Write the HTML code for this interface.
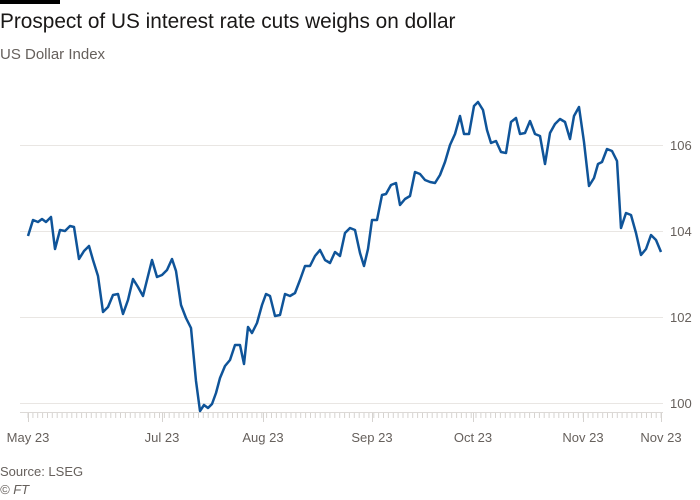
<!DOCTYPE html>
<html><head><meta charset="utf-8"><style>
html,body{margin:0;padding:0;background:#fff;}
body{width:700px;height:500px;overflow:hidden;font-family:"Liberation Sans",sans-serif;position:relative;}
.bar{position:absolute;left:0;top:0;width:60px;height:4px;background:#000;}
.t{position:absolute;left:0;top:10px;font-size:20.8px;color:#1a1817;}
.s{position:absolute;left:0;top:46px;font-size:15px;color:#66605c;}
.f{position:absolute;left:0;font-size:13px;color:#66605c;}
</style></head><body>
<div class="bar"></div>
<div class="t">Prospect of US interest rate cuts weighs on dollar</div>
<div class="s">US Dollar Index</div>
<svg width="700" height="500" style="position:absolute;left:0;top:0">
<g stroke="#e9e6e3" stroke-width="1">
<line x1="20" x2="663" y1="145.5" y2="145.5"/>
<line x1="20" x2="663" y1="231.5" y2="231.5"/>
<line x1="20" x2="663" y1="317.5" y2="317.5"/>
<line x1="20" x2="663" y1="403.5" y2="403.5"/>
<line x1="20" x2="663" y1="412.5" y2="412.5" stroke="#dcd9d6"/>
</g>
<g id="ticks" stroke="#d6d3d0" stroke-width="1"></g>
<g font-family="Liberation Sans, sans-serif" font-size="13" fill="#66605c">
<text x="670" y="150">106</text><text x="670" y="236">104</text><text x="670" y="322">102</text><text x="670" y="408">100</text>
<g text-anchor="middle">
<text x="28" y="442">May 23</text><text x="162" y="442">Jul 23</text><text x="263" y="442">Aug 23</text>
<text x="372" y="442">Sep 23</text><text x="473" y="442">Oct 23</text><text x="583" y="442">Nov 23</text><text x="661" y="442">Nov 23</text>
</g></g>
<polyline fill="none" stroke="#0f5499" stroke-width="2.5" stroke-linejoin="round" points="28,236 33,220 38,222 42,219 46,222 51,217 55,249 60,230 65,231 70,226 74,227 79,259 84,251 89,246 93,260 98,276 103,312 108,307 113,295 118,294 123,314 128,300 133,279 138,287 143,296 147,280 152,260 157,277 162,275 167,270 172,259 176,271 181,305 186,318 191,328 196,381 200,411 204,405 208,408 212,404 216,393 220,378 225,366 230,360 235,345 240,345 244,364 248,327 252,333 257,323 262,305 266,294 270,296 275,316 280,315 285,294 290,296 295,293 300,280 305,266 310,266 315,256 320,250 325,260 330,263 335,252 340,256 345,233 350,228 355,230 360,253 364,266 368,249 372,220 377,220 382,195 386,194 391,185 396,183 400,205 405,199 410,196 415,172 420,174 425,180 430,182 435,183 440,175 445,162 450,145 455,134 460,116 464,134 469,134 474,106 478,102 483,110 487,130 491,143 496,141 501,152 506,153 511,122 516,118 520,134 525,133 530,121 535,134 540,136 545,164 550,133 555,124 560,119 565,122 570,139 574,116 579,107 584,142 589,186 594,178 598,164 602,162 607,149 612,151 617,161 621,228 626,213 631,215 636,233 641,255 646,249 651,235 656,240 661,252"/>
</svg>
<div class="f" style="top:464px">Source: LSEG</div>
<div class="f" style="top:482px;font-style:italic">© FT</div>
<script>
var g=document.getElementById('ticks'),s='';
for(var x=28;x<=662;x+=4.87){s+='<line x1="'+x.toFixed(1)+'" x2="'+x.toFixed(1)+'" y1="413" y2="418"/>';}
[28,162,263,372,473,583,661].forEach(function(x){s+='<line x1="'+x+'.5" x2="'+x+'.5" y1="413" y2="422"/>';});
g.innerHTML=s;
</script>
</body></html>
